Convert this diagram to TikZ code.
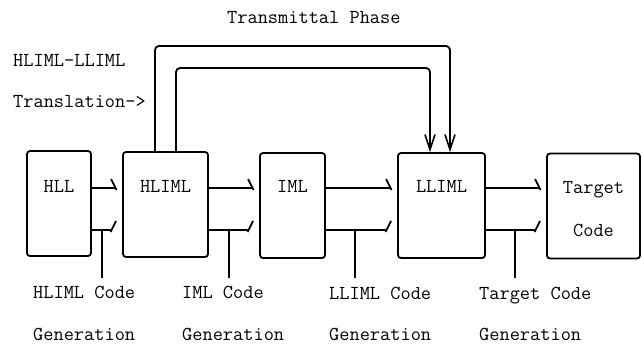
\documentclass[tikz,border=0pt]{standalone}
\usetikzlibrary{calc,arrows.meta}
\begin{document}
\begin{tikzpicture}[x=1pt,y=-1pt,
  box/.style={draw,line width=1.8pt,rounded corners=3pt,minimum width=#1,
    minimum height=105pt,inner sep=0pt},
  conn/.style={draw,line width=1.8pt},
  tt/.style={font=\fontsize{19.8}{22}\selectfont\ttfamily,inner sep=0pt},
  txt/.style={tt,anchor=base west},
  boxlabel/.style={tt,anchor=base},
  tip/.style={-{Straight Barb[length=15pt,width=10pt,line width=1.6pt]}}]
\useasboundingbox (0,0) rectangle (644,343);

% the five stages
\node[box=64pt] (hll)    at (59,203.5)   {};
\node[box=85pt] (hliml)  at (165.5,204.5) {};
\node[box=65pt] (iml)    at (292.5,205.5) {};
\node[box=87pt] (lliml)  at (441.5,205.5) {};
\node[box=93pt] (target) at (593.5,206)   {};

\node[boxlabel] (hllT)    at (59,192)    {HLL};
\node[boxlabel] (hlimlT)  at (165.5,192) {HLIML};
\node[boxlabel] (imlT)    at (292.5,192) {IML};
\node[boxlabel] (llimlT)  at (441.5,192) {LLIML};
\node[boxlabel] (targetT) at (593.5,193) {Target};
\node[boxlabel] (targetC) at (593.5,236) {Code};

% levels of the two parallel arrows
\coordinate (upline) at (0,188);
\coordinate (loline) at (0,230);

\foreach \s/\t/\m in {hll/hliml/102, hliml/iml/229, iml/lliml/355, lliml/target/515} {
  \path (\t.west |- upline) ++(-6,0) coordinate (\s-up);
  \path (\t.west |- loline) ++(-6,0) coordinate (\s-lo);
  \draw[conn] (\s.east |- upline) -- (\s-up);
  \draw[conn] ($(\s-up)+(-5,-9)$) -- ($(\s-up)+(0.5,2)$);
  \draw[conn] (\s.east |- loline) -- ($(\s-lo)+(-5,0)$);
  \draw[conn] ($(\s-lo)+(-5.5,2)$) -- ($(\s-lo)+(0,-9)$);
  \coordinate (\s-stem) at (\m,230);
  \coordinate (\s-foot) at (\m,278);
  \draw[conn] (\s-stem) -- (\s-foot);
}

% transmittal paths from HLIML to LLIML
\coordinate (outA) at (155,46);
\coordinate (outB) at (450,46);
\coordinate (inA)  at (176,68);
\coordinate (inB)  at (430,68);
\draw[conn,tip,rounded corners=4pt] (hliml.north -| outA) -- (outA) -- (outB) -- (lliml.north -| outB);
\draw[conn,tip,rounded corners=4pt] (hliml.north -| inA) -- (inA) -- (inB) -- (lliml.north -| inB);

% annotations
\node[txt] (phase) at (227,23)  {Transmittal Phase};
\node[txt] (trA)   at (13,66)   {HLIML-LLIML};
\node[txt] (trB)   at (13,107)  {Translation->};

\node[txt] (g1a) at (33,298)  {HLIML Code};
\node[txt] (g1b) at (33,340)  {Generation};
\node[txt] (g2a) at (182,298) {IML Code};
\node[txt] (g2b) at (182,340) {Generation};
\node[txt] (g3a) at (329,299) {LLIML Code};
\node[txt] (g3b) at (329,340) {Generation};
\node[txt] (g4a) at (479,299) {Target Code};
\node[txt] (g4b) at (479,340) {Generation};
\end{tikzpicture}
\end{document}
